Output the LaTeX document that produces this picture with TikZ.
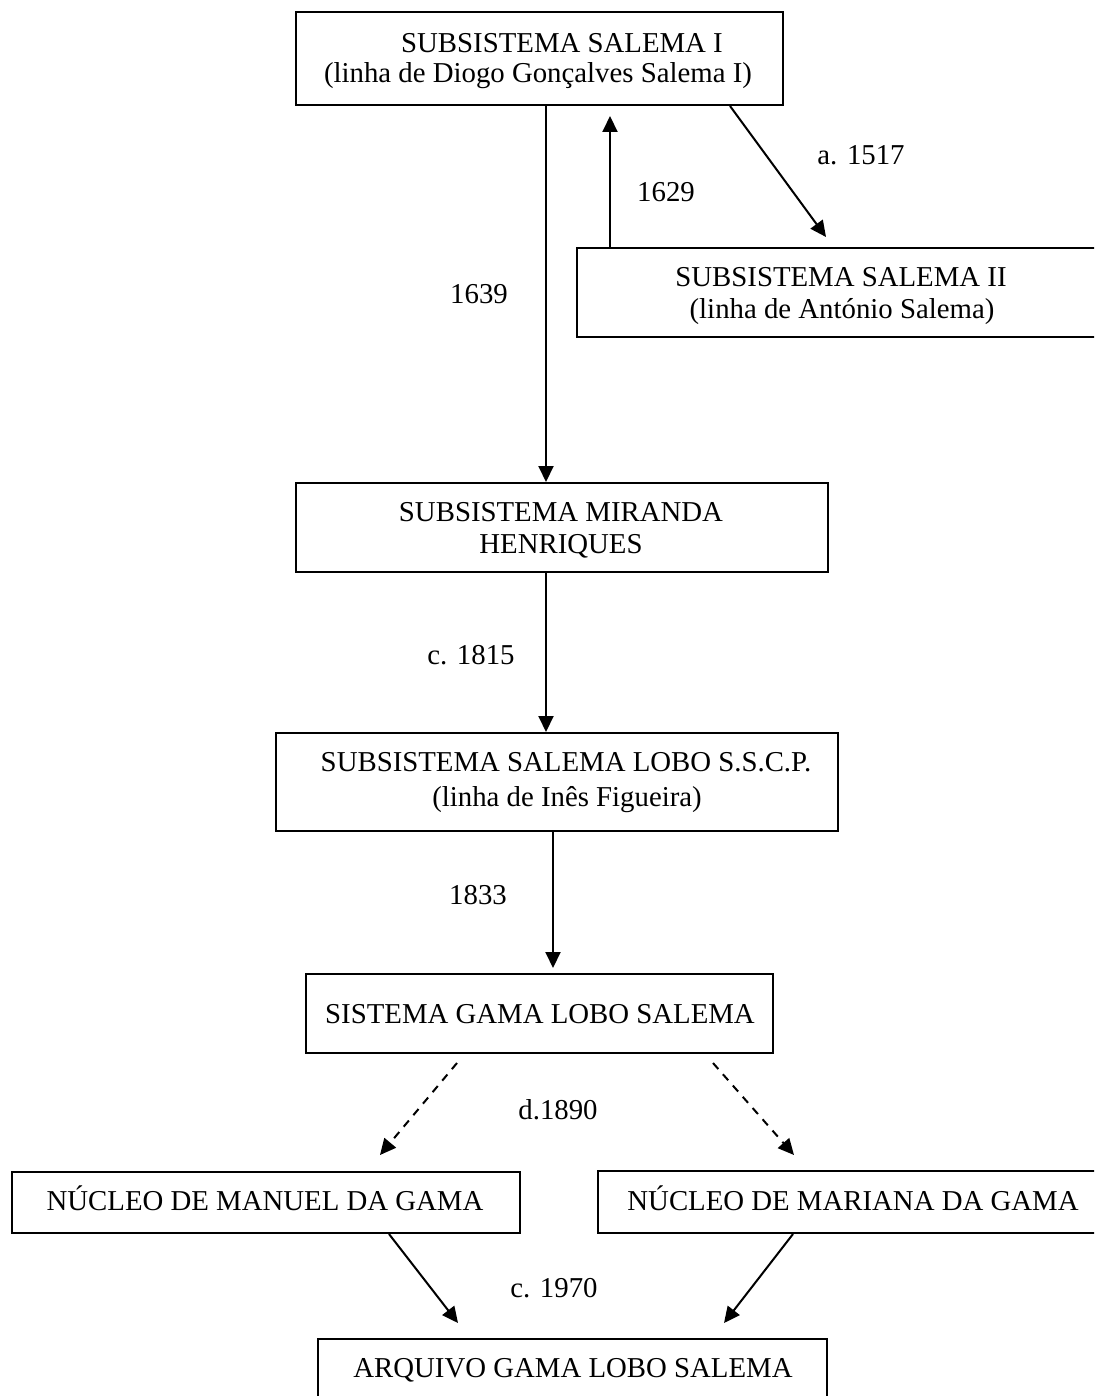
\documentclass[tikz,border=0pt]{standalone}
\usepackage{fontspec}
\setmainfont{Liberation Serif}
\usetikzlibrary{arrows.meta}
\begin{document}
\begin{tikzpicture}[x=0.5pt,y=-0.5pt,
  box/.style={draw, line width=1pt, inner sep=0pt, rectangle},
  txt/.style={inner sep=0pt, anchor=base, font=\fontsize{14.4}{16}\selectfont},
  arr/.style={line width=1pt, -{Triangle[length=8pt,width=7.5pt]}},
  darr/.style={arr, dash pattern=on 4pt off 3.5pt}]
\useasboundingbox (0,0) rectangle (1094,1396);
\clip (0,0) rectangle (1094,1396);

% boxes
\node[box, minimum width=243.5pt, minimum height=46.5pt] (b1) at (539.5,58.5) {};
\node[box, minimum width=266.5pt, minimum height=44.5pt] (b2) at (843.5,292.5) {};
\node[box, minimum width=266pt, minimum height=44.5pt] (b3) at (562,527.5) {};
\node[box, minimum width=281pt, minimum height=49pt] (b4) at (557,782) {};
\node[box, minimum width=233.5pt, minimum height=39.5pt] (b5) at (539.5,1013.5) {};
\node[box, minimum width=254pt, minimum height=30.5pt] (b6) at (266,1202.5) {};
\node[box, minimum width=256pt, minimum height=31pt] (b7) at (854,1202) {};
\node[box, minimum width=254.5pt, minimum height=40.5pt] (b8) at (572.5,1379.5) {};

% box texts
\node[txt] (t1a) at (562,53) {SUBSISTEMA SALEMA I};
\node[txt] (t1b) at (538,83) {(linha de Diogo Gonçalves Salema I)};
\node[txt] (t2a) at (841,286) {SUBSISTEMA SALEMA II};
\node[txt] (t2b) at (842,318) {(linha de António Salema)};
\node[txt] (t3a) at (561,521) {SUBSISTEMA MIRANDA};
\node[txt] (t3b) at (561,553) {HENRIQUES};
\node[txt] (t4a) at (566,771) {SUBSISTEMA SALEMA LOBO S.S.C.P.};
\node[txt] (t4b) at (567,806) {(linha de Inês Figueira)};
\node[txt] (t5) at (540,1023) {SISTEMA GAMA LOBO SALEMA};
\node[txt] (t6) at (265,1210) {NÚCLEO DE MANUEL DA GAMA};
\node[txt] (t7) at (853,1210) {NÚCLEO DE MARIANA DA GAMA};
\node[txt] (t8) at (573,1377) {ARQUIVO GAMA LOBO SALEMA};

% date labels
\node[txt] (l1639) at (479,303) {1639};
\node[txt] (l1629) at (666,202) {1629};
\node[txt] (l1517) at (861,165) {a. 1517};
\node[txt] (l1815) at (471,664) {c. 1815};
\node[txt] (l1833) at (478,904) {1833};
\node[txt] (l1890) at (558,1119) {d.1890};
\node[txt] (l1970) at (554,1297) {c. 1970};

% connector guide points
\coordinate (vA) at (546,0);
\coordinate (vB) at (553,0);
\coordinate (upS) at (610,0);
\coordinate (upE) at (610,116);
\coordinate (dgS) at (730,0);
\coordinate (dgE) at (826,237);
\coordinate (e1833) at (553,968);
\coordinate (dlS) at (457,1063);
\coordinate (dlE) at (380,1155);
\coordinate (drS) at (713,1063);
\coordinate (drE) at (794,1155);
\coordinate (slS) at (389,0);
\coordinate (slE) at (458,1323);
\coordinate (srS) at (793,0);
\coordinate (srE) at (724,1323);

% connectors
\draw[arr] (b1.south -| vA) -- (b3.north -| vA);
\draw[arr] (b2.north -| upS) -- (upE);
\draw[arr] (b1.south -| dgS) -- (dgE);
\draw[arr] (b3.south -| vA) -- (b4.north -| vA);
\draw[arr] (b4.south -| vB) -- (e1833);
\draw[darr] (dlS) -- (dlE);
\draw[darr] (drS) -- (drE);
\draw[arr] (b6.south -| slS) -- (slE);
\draw[arr] (b7.south -| srS) -- (srE);
\end{tikzpicture}
\end{document}
